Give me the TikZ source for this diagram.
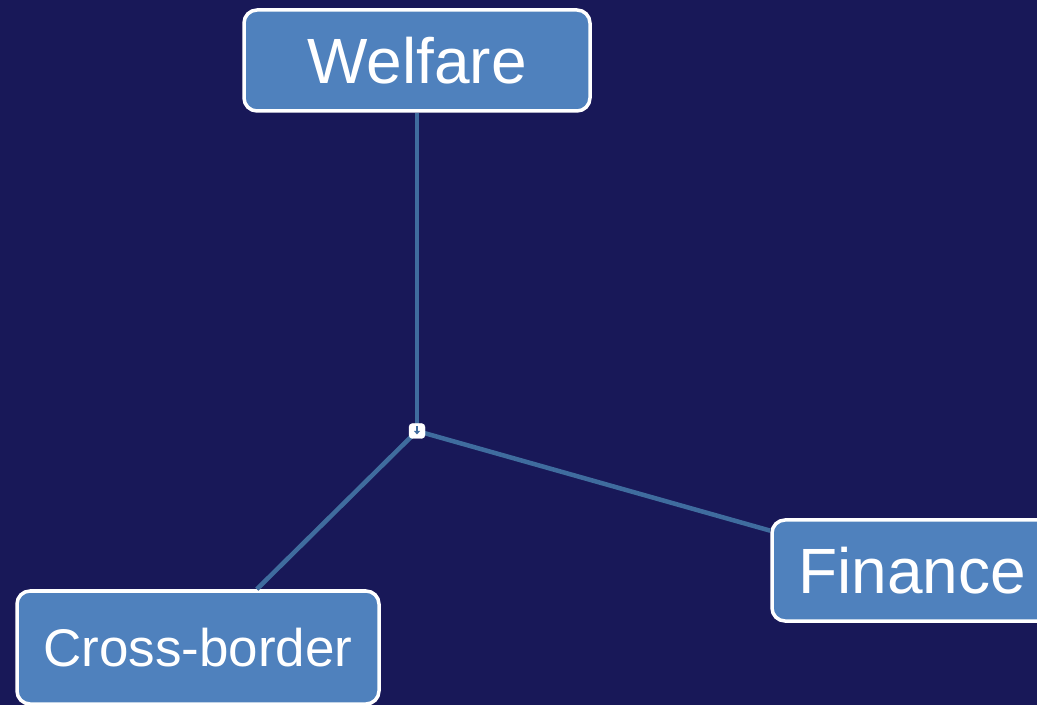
\documentclass[tikz,border=0pt]{standalone}
\usepackage{fontspec}
\setmainfont{Liberation Sans}
\definecolor{navy}{HTML}{181858}
\definecolor{boxblue}{HTML}{4F81BD}
\definecolor{linkblue}{HTML}{3F6C9E}
\begin{document}
\begin{tikzpicture}[x=1pt,y=1pt,
  topic/.style={draw=white, line width=3.5pt, fill=boxblue, rounded corners=13pt,
    text=white, inner sep=0pt, font=\fontsize{64}{70}\selectfont},
  hub/.style={draw=white, fill=white, rounded corners=3.5pt, minimum width=16pt,
    minimum height=15pt, inner sep=0pt},
  link/.style={draw=linkblue, line width=4.5pt}]
  \useasboundingbox (0,0) rectangle (1037,705);
  \clip (0,0) rectangle (1037,705);
  \fill[navy] (0,0) rectangle (1037,705);

  % central hub and its three branches
  \coordinate (c) at (417,274);
  \node[topic, minimum width=346pt, minimum height=101pt] (welfare) at (417,644.5) {Welfare};
  \node[topic, minimum width=280pt, minimum height=101pt] (finance) at (912,134.5) {Finance};
  \node[topic, minimum width=362pt, minimum height=113pt, font=\fontsize{53}{60}\selectfont]
    (cross) at (198,57.5) {Cross-border};

  \draw[link] (c) -- (welfare);
  \draw[link] (c) -- (finance);
  \draw[link] (c) -- (cross);

  \node[hub] (h) at (c) {};
  \fill[linkblue] ([xshift=-1pt]h.center) rectangle ([xshift=1pt,yshift=4.5pt]h.center);
  \fill[linkblue] ([xshift=-3pt]h.center) -- ([xshift=3pt]h.center) -- ([yshift=-3.5pt]h.center) -- cycle;
\end{tikzpicture}
\end{document}
